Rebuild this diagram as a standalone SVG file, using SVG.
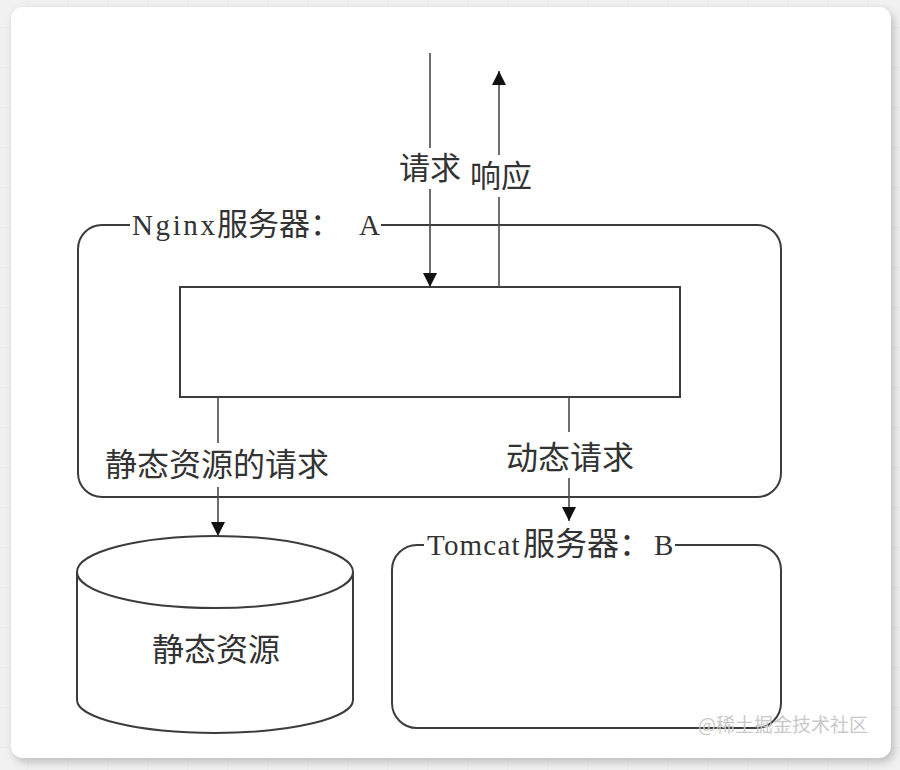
<svg xmlns="http://www.w3.org/2000/svg" width="900" height="770" viewBox="0 0 900 770">
  <style>
    .box { fill: none; stroke: #3c3c3c; stroke-width: 2; }
    .conn { fill: none; stroke: #4a4a4a; stroke-width: 1.6; }
    .cjk { font-family: "Noto Sans CJK SC", "Noto Sans", sans-serif; fill: #333; }
    .lat { font-family: "Liberation Serif", "DejaVu Serif", serif; fill: #333; }
    .wm { font-family: "Noto Sans CJK SC", sans-serif; font-size: 19px; fill: #c9c9c9; }
  </style>
  <defs>
    <pattern id="grid" x="27" y="-13" width="40" height="40" patternUnits="userSpaceOnUse">
      <rect width="40" height="40" fill="#f1f1f1"/>
      <path d="M0 0 V40 M0 0 H40" stroke="#e3e3e3" stroke-width="1" fill="none"/>
    </pattern>
    <filter id="shadow" x="-5%" y="-5%" width="110%" height="110%">
      <feGaussianBlur stdDeviation="4"/>
    </filter>
    <marker id="arrow" viewBox="0 0 14 14" refX="14" refY="7" markerWidth="14" markerHeight="14" markerUnits="userSpaceOnUse" orient="auto">
      <path d="M0 0 L14 7 L0 14 Z" fill="#111"/>
    </marker>
  </defs>

  <!-- background and card -->
  <rect x="0" y="0" width="900" height="770" fill="url(#grid)"/>
  <rect x="14" y="11" width="880" height="751" rx="12" fill="#9a9a9a" opacity="0.6" filter="url(#shadow)"/>
  <rect x="11" y="7" width="880" height="751" rx="12" fill="#ffffff"/>

  <!-- Nginx server A -->
  <g id="nginx">
    <path class="box" d="M381 225 H757 A24 24 0 0 1 781 249 V473 A24 24 0 0 1 757 497 H102 A24 24 0 0 1 78 473 V249 A24 24 0 0 1 102 225 H130"/>
    <text y="235" font-size="29"><tspan class="lat" x="132" letter-spacing="2.6">Nginx</tspan><tspan class="cjk" x="217" font-size="31">服务器： </tspan><tspan class="lat" x="359">A</tspan></text>
  </g>

  <!-- inner proxy box -->
  <g id="proxy">
    <rect class="box" x="180" y="287" width="500" height="110"/>
  </g>

  <!-- static resources cylinder -->
  <g id="static">
    <path class="box" d="M77 572 A138 36 0 0 1 353 572 A138 36 0 0 1 77 572 Z"/>
    <path class="box" d="M77 572 V700 A138 33 0 0 0 353 700 V572"/>
    <text class="cjk" x="216" y="661" font-size="32" text-anchor="middle">静态资源</text>
  </g>

  <!-- Tomcat server B -->
  <g id="tomcat">
    <path class="box" d="M675 545 H756 A25 25 0 0 1 781 570 V703 A25 25 0 0 1 756 728 H417 A25 25 0 0 1 392 703 V570 A25 25 0 0 1 417 545 H424"/>
    <text y="555" font-size="29"><tspan class="lat" x="427" letter-spacing="1.2">Tomcat</tspan><tspan class="cjk" x="523" font-size="32">服务器：</tspan><tspan class="lat" x="654">B</tspan></text>
  </g>

  <!-- connectors -->
  <g id="connectors">
    <path class="conn" d="M430 53 V148"/>
    <path class="conn" d="M430 189 V287" marker-end="url(#arrow)"/>
    <path class="conn" d="M499 287 V197"/>
    <path class="conn" d="M499 155 V71" marker-end="url(#arrow)"/>
    <path class="conn" d="M218 397 V443"/>
    <path class="conn" d="M218 487 V536" marker-end="url(#arrow)"/>
    <path class="conn" d="M569 397 V432"/>
    <path class="conn" d="M569 478 V521" marker-end="url(#arrow)"/>
  </g>

  <!-- connector labels -->
  <g id="labels">
    <text class="cjk" x="430" y="179" font-size="31" text-anchor="middle">请求</text>
    <text class="cjk" x="501" y="187" font-size="31" text-anchor="middle">响应</text>
    <text class="cjk" x="217" y="476" font-size="32" text-anchor="middle">静态资源的请求</text>
    <text class="cjk" x="570" y="469" font-size="32" text-anchor="middle">动态请求</text>
  </g>

  <text class="wm" x="868" y="732" text-anchor="end">@稀土掘金技术社区</text>
</svg>
